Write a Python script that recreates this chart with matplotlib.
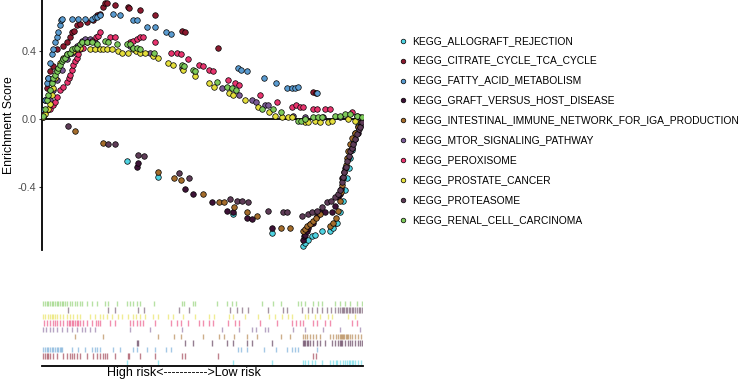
import matplotlib
matplotlib.use('Agg')
import matplotlib.pyplot as plt
###############################################################################
plt.rcParams['font.family'] = ['Liberation Sans', 'DejaVu Sans']

set_names = ['KEGG_ALLOGRAFT_REJECTION', 'KEGG_CITRATE_CYCLE_TCA_CYCLE',
             'KEGG_FATTY_ACID_METABOLISM', 'KEGG_GRAFT_VERSUS_HOST_DISEASE',
             'KEGG_INTESTINAL_IMMUNE_NETWORK_FOR_IGA_PRODUCTION',
             'KEGG_MTOR_SIGNALING_PATHWAY', 'KEGG_PEROXISOME',
             'KEGG_PROSTATE_CANCER', 'KEGG_PROTEASOME', 'KEGG_RENAL_CELL_CARCINOMA']
set_colors = ['#4fd3e2', '#8c1a2f', '#5a9bd0', '#3d1236', '#a46c2b',
              '#7b5b95', '#e8346e', '#e4de3c', '#5e3c57', '#7dc95a']

# gene rank position / running enrichment score for each set
allograft_rank = [85, 116, 191, 230, 261, 263, 266, 270, 273, 280, 288, 291, 294,
                  295, 298, 301, 303, 305, 307, 308, 310, 311, 313, 316, 319]
allograft_es = [-0.25, -0.34, -0.56, -0.67, -0.75, -0.73, -0.71, -0.69, -0.68, -0.66,
                -0.66, -0.64, -0.61, -0.61, -0.55, -0.48, -0.42, -0.35, -0.29, -0.23,
                -0.18, -0.14, -0.08, -0.04, -0.01]

citrate_rank = [1, 3, 5, 6, 8, 11, 15, 21, 25, 28, 30, 32, 35, 38, 45, 51, 55, 58,
                61, 63, 65, 73, 86, 87, 98, 113, 140, 143, 176, 271, 274]
citrate_es = [0.04, 0.11, 0.18, 0.24, 0.28, 0.31, 0.41, 0.43, 0.45, 0.48, 0.51, 0.52,
              0.55, 0.56, 0.57, 0.58, 0.61, 0.62, 0.66, 0.68, 0.68, 0.67, 0.66, 0.65,
              0.64, 0.61, 0.52, 0.51, 0.42, 0.16, 0.15]

fatty_rank = [1, 3, 5, 6, 8, 10, 11, 13, 15, 16, 18, 19, 20, 30, 36, 43, 50, 53, 55,
              58, 71, 78, 91, 95, 105, 113, 124, 129, 196, 199, 205, 222, 234, 245,
              250, 253, 256, 275]
fatty_es = [0.05, 0.11, 0.21, 0.24, 0.33, 0.38, 0.41, 0.45, 0.48, 0.51, 0.55, 0.58,
            0.59, 0.59, 0.59, 0.59, 0.59, 0.60, 0.60, 0.61, 0.62, 0.61, 0.58, 0.58,
            0.54, 0.54, 0.51, 0.50, 0.30, 0.29, 0.28, 0.24, 0.21, 0.18, 0.18, 0.18,
            0.19, 0.15]

graft_rank = [95, 96, 143, 151, 170, 185, 191, 205, 210, 230, 261, 262, 263, 265,
              266, 268, 271, 275, 278, 283, 290, 293, 296, 298, 299, 300, 303, 306,
              308, 310, 313, 316, 318, 320]
graft_es = [-0.28, -0.26, -0.41, -0.44, -0.49, -0.54, -0.55, -0.58, -0.59, -0.64,
            -0.71, -0.69, -0.68, -0.66, -0.64, -0.62, -0.61, -0.57, -0.55, -0.55,
            -0.55, -0.51, -0.46, -0.44, -0.41, -0.35, -0.29, -0.23, -0.19, -0.17,
            -0.12, -0.08, -0.04, -0.01]

intestinal_rank = [33, 61, 116, 132, 139, 161, 177, 182, 192, 205, 215, 239, 248,
                   261, 263, 265, 268, 271, 274, 278, 288, 291, 294, 296, 298, 299,
                   300, 301, 302, 304, 305, 306, 308, 310, 313, 316, 319]
intestinal_es = [-0.07, -0.14, -0.31, -0.35, -0.36, -0.44, -0.49, -0.49, -0.52, -0.55,
                 -0.57, -0.64, -0.64, -0.66, -0.65, -0.63, -0.62, -0.60, -0.58, -0.56,
                 -0.63, -0.61, -0.58, -0.54, -0.48, -0.43, -0.39, -0.35, -0.31, -0.27,
                 -0.23, -0.19, -0.15, -0.11, -0.08, -0.05, -0.02]

mtor_rank = [1, 4, 8, 11, 15, 20, 25, 30, 35, 40, 43, 48, 53, 88, 108, 140, 180, 197,
             210, 214, 223, 226, 251, 263, 281, 298, 318]
mtor_es = [0.01, 0.05, 0.11, 0.17, 0.23, 0.29, 0.35, 0.39, 0.43, 0.46, 0.47, 0.47,
           0.45, 0.43, 0.39, 0.30, 0.18, 0.14, 0.11, 0.10, 0.08, 0.08, 0.02, 0.01,
           0.01, 0.01, 0.01]

perox_rank = [2, 5, 8, 11, 13, 15, 18, 21, 25, 27, 28, 30, 31, 33, 35, 36, 38, 41, 45,
              50, 54, 56, 58, 68, 73, 88, 91, 95, 98, 101, 113, 129, 135, 139, 146,
              157, 161, 167, 171, 186, 193, 197, 218, 235, 250, 254, 258, 261, 271,
              275, 283, 288, 310, 315]
perox_es = [0.03, 0.05, 0.06, 0.08, 0.10, 0.13, 0.17, 0.19, 0.22, 0.24, 0.26, 0.29,
            0.32, 0.34, 0.36, 0.38, 0.41, 0.42, 0.45, 0.46, 0.48, 0.49, 0.51, 0.48,
            0.48, 0.45, 0.46, 0.47, 0.48, 0.48, 0.45, 0.39, 0.39, 0.38, 0.35, 0.32,
            0.31, 0.29, 0.28, 0.23, 0.21, 0.20, 0.14, 0.10, 0.07, 0.08, 0.07, 0.07,
            0.06, 0.06, 0.06, 0.06, 0.04, 0.02]

prostate_rank = [1, 3, 6, 8, 10, 11, 13, 15, 18, 21, 25, 28, 31, 35, 38, 48, 53, 58,
                 61, 65, 70, 76, 80, 86, 91, 94, 98, 103, 111, 116, 126, 131, 141,
                 153, 167, 172, 187, 191, 203, 216, 227, 233, 240, 246, 250, 263, 266,
                 273, 278, 286, 290, 306, 313]
prostate_es = [0.01, 0.03, 0.06, 0.09, 0.14, 0.18, 0.24, 0.29, 0.33, 0.36, 0.38, 0.39,
               0.40, 0.41, 0.42, 0.41, 0.41, 0.41, 0.41, 0.41, 0.41, 0.40, 0.39, 0.39,
               0.41, 0.40, 0.39, 0.39, 0.37, 0.36, 0.33, 0.32, 0.29, 0.25, 0.21, 0.19,
               0.15, 0.14, 0.11, 0.07, 0.04, 0.02, 0.01, 0.01, 0.01, -0.02, -0.02,
               -0.01, -0.02, -0.02, -0.01, 0.00, -0.01]

proteasome_rank = [26, 66, 73, 96, 102, 137, 147, 188, 195, 200, 206, 226, 241, 245,
                   260, 266, 270, 275, 280, 285, 289, 293, 296, 298, 300, 301, 302,
                   304, 305, 307, 308, 310, 311, 313, 315, 317, 318, 320]
proteasome_es = [-0.04, -0.15, -0.15, -0.21, -0.22, -0.32, -0.35, -0.47, -0.48, -0.48,
                 -0.49, -0.54, -0.55, -0.55, -0.57, -0.56, -0.55, -0.54, -0.52, -0.49,
                 -0.48, -0.46, -0.44, -0.42, -0.37, -0.34, -0.31, -0.28, -0.25, -0.22,
                 -0.19, -0.17, -0.15, -0.12, -0.09, -0.06, -0.05, -0.02]

renal_rank = [1, 3, 5, 6, 8, 10, 11, 13, 15, 16, 18, 20, 21, 23, 25, 28, 30, 33, 35,
              38, 40, 45, 50, 55, 63, 66, 75, 85, 88, 91, 95, 98, 112, 140, 142, 151,
              153, 175, 185, 190, 194, 220, 231, 239, 256, 259, 263, 271, 276, 280,
              293, 298, 303, 308, 315, 320]
renal_es = [0.02, 0.06, 0.11, 0.14, 0.17, 0.21, 0.24, 0.26, 0.28, 0.30, 0.32, 0.34,
            0.35, 0.36, 0.38, 0.39, 0.41, 0.42, 0.42, 0.44, 0.45, 0.45, 0.45, 0.44,
            0.46, 0.45, 0.44, 0.44, 0.44, 0.42, 0.42, 0.41, 0.39, 0.32, 0.31, 0.29,
            0.28, 0.22, 0.19, 0.18, 0.17, 0.06, 0.06, 0.04, -0.01, -0.01, 0.00, 0.01,
            0.01, 0.01, 0.02, 0.02, 0.03, 0.03, 0.02, 0.01]

all_ranks = [allograft_rank, citrate_rank, fatty_rank, graft_rank, intestinal_rank,
             mtor_rank, perox_rank, prostate_rank, proteasome_rank, renal_rank]
all_es = [allograft_es, citrate_es, fatty_es, graft_es, intestinal_es,
          mtor_es, perox_es, prostate_es, proteasome_es, renal_es]
###############################################################################
W, H = 754, 382
fig = plt.figure(figsize=(W / 100, H / 100), dpi=100)

# running enrichment score panel
ax = fig.add_axes([42 / W, 1 - 250 / H, 321 / W, 250 / H])
for rank, es, col in zip(all_ranks, all_es, set_colors):
    ax.scatter(rank, es, s=16, color=col, edgecolors='black', linewidths=0.5, zorder=3)
ax.axhline(0, color='black', lw=1.3, zorder=2)
ax.set_xlim(0, 321)
ax.set_ylim(-0.771, 0.70)
ax.set_xticks([])
ax.set_yticks([-0.4, 0.0, 0.4])
ax.set_yticklabels(['-0.4', '0.0', '0.4'])
ax.tick_params(axis='y', labelsize=7.8, colors='#333333', labelcolor='#4d4d4d',
               length=2.5, width=0.8, pad=1.5)
for side in ['top', 'right', 'bottom']:
    ax.spines[side].set_visible(False)
ax.spines['left'].set_linewidth(1.3)
ax.set_ylabel('Enrichment Score', fontsize=8.8, labelpad=2)

# barcode panel
ax2 = fig.add_axes([42 / W, 16 / H, 321 / W, 66 / H])
for i, (rank, col) in enumerate(zip(all_ranks, set_colors)):
    ax2.vlines(rank, i + 0.08, i + 0.92, colors=col, alpha=0.55, lw=1.0)
ax2.set_xlim(0, 321)
ax2.set_ylim(0, 10)
ax2.set_xticks([])
ax2.set_yticks([])
for side in ['top', 'right', 'left']:
    ax2.spines[side].set_visible(False)
ax2.spines['bottom'].set_linewidth(1.3)
fig.text(184 / W, 1 - 373 / H, 'High risk<----------->Low risk', fontsize=9,
         ha='center', va='center')

# legend
lax = fig.add_axes([0, 0, 1, 1])
lax.axis('off')
lax.set_xlim(0, 1)
lax.set_ylim(0, 1)
for i, (name, col) in enumerate(zip(set_names, set_colors)):
    yy = 1 - (40.7 + i * 19.9) / H
    lax.scatter([403 / W], [yy], s=11, color=col, edgecolors='black', linewidths=0.5)
    lax.text(412 / W, yy, name, fontsize=7.4, va='center', ha='left')

plt.savefig('out.png', dpi=100)
print('finished')
